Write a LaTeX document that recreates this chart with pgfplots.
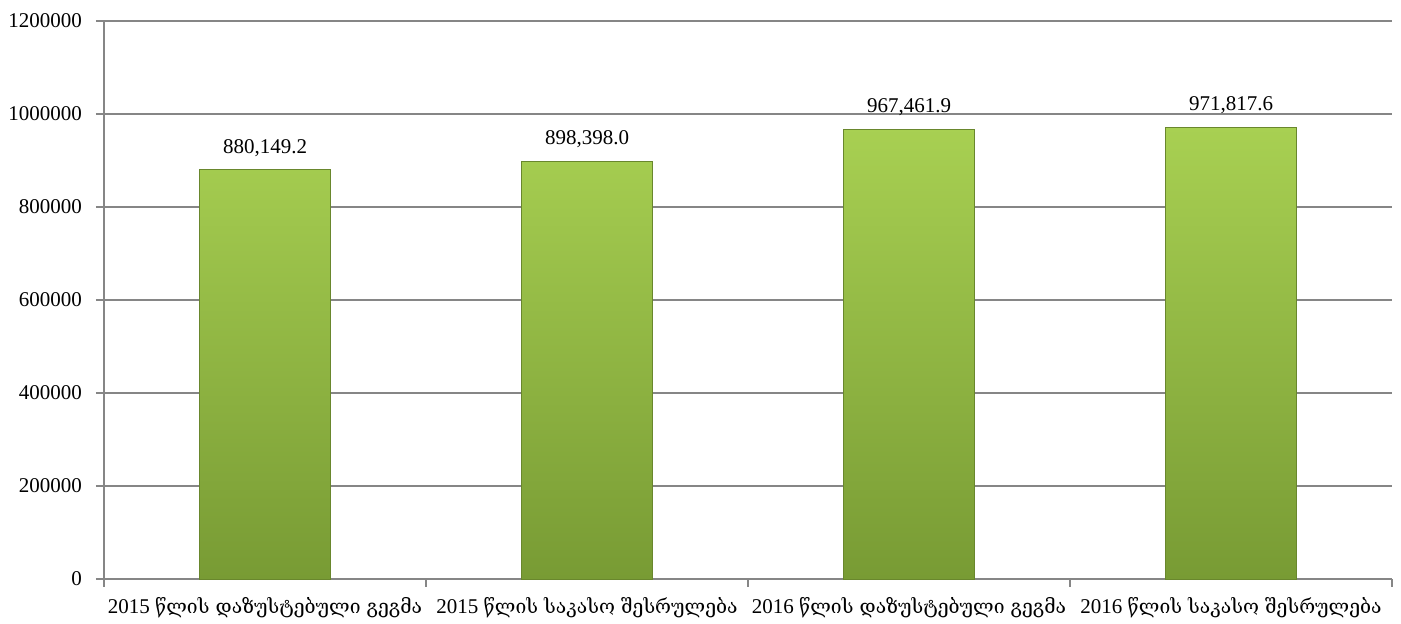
\documentclass[border=0pt]{standalone}
\usepackage{fontspec}
\setmainfont{Liberation Serif}
\newfontfamily\geofont[Scale=0.92]{DejaVu Serif}
\usepackage{pgfplots}
\pgfplotsset{compat=1.18}
\usepackage{pgfplotstable}
\definecolor{gridgray}{RGB}{134,134,134}
\definecolor{bartop}{RGB}{168,208,82}
\definecolor{barmid}{RGB}{152,192,70}
\definecolor{barbot}{RGB}{120,155,52}
\definecolor{baredge}{RGB}{105,135,45}
\pgfplotstableread{
x y lab
0 880149.2 880,149.2
1 898398.0 898,398.0
2 967461.9 967,461.9
3 971817.6 971,817.6
}\data
\begin{document}
\begin{tikzpicture}
\useasboundingbox (-52pt,-22.5pt) rectangle (648.5pt,289.5pt);
\begin{axis}[
  scale only axis, width=644pt, height=279pt,
  at={(0,0)}, anchor=south west,
  xmin=-0.5, xmax=3.5, ymin=0, ymax=1200000,
  scaled y ticks=false,
  axis x line*=bottom, axis y line*=left,
  axis line style={gridgray, line width=0.6pt, -},
  ytick={0,200000,400000,600000,800000,1000000,1200000},
  yticklabels={0,200000,400000,600000,800000,1000000,1200000},
  xtick={0,1,2,3},
  xticklabels={
    {2015 {\geofont წლის დაზუსტებული გეგმა}},
    {2015 {\geofont წლის საკასო შესრულება}},
    {2016 {\geofont წლის დაზუსტებული გეგმა}},
    {2016 {\geofont წლის საკასო შესრულება}}},
  minor xtick={-0.5,0.5,1.5,2.5,3.5},
  major x tick style={draw=none},
  minor x tick style={gridgray, line width=0.6pt},
  ytick style={gridgray, line width=0.6pt},
  tick align=outside, major tick length=4pt, minor tick length=4pt,
  ymajorgrids, grid style={gridgray, line width=0.6pt},
  ticklabel style={font=\fontsize{10.5}{12}\selectfont, black},
  yticklabel style={xshift=-3.5pt},
  xticklabel style={yshift=-1.5pt},
  ybar, bar width=65.5pt,
  nodes near coords,
  nodes near coords style={font=\fontsize{10.5}{12}\selectfont, black, yshift=3pt},
  point meta=explicit symbolic,
  clip=false,
]
\addplot[draw=baredge, line width=0.4pt, top color=bartop, middle color=barmid, bottom color=barbot]
  table[x=x, y=y, meta=lab]{\data};
\end{axis}
\end{tikzpicture}
\end{document}
